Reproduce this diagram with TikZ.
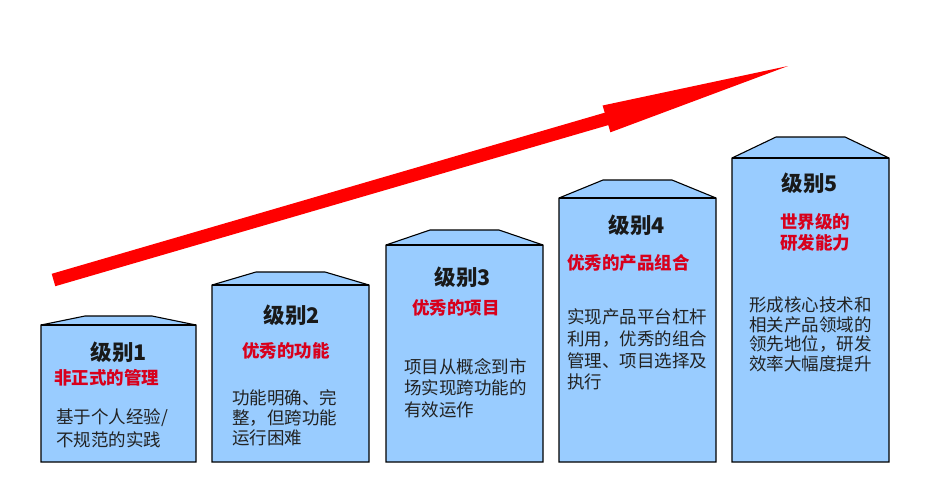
\documentclass[tikz,border=0pt]{standalone}
\usepackage{fontspec}
\setmainfont{Noto Sans CJK SC}
\definecolor{boxblue}{HTML}{99CCFF}
\definecolor{subred}{HTML}{D8001C}
\definecolor{bodygray}{HTML}{222222}
\definecolor{arrowred}{HTML}{FF0000}
\tikzset{
  towerbox/.style={fill=boxblue, draw=black, line width=1.1pt, line join=miter},
  roofline/.style={draw=black, line width=1.1pt},
  leveltitle/.style={inner sep=0pt, font=\fontsize{21.5}{21.5}\selectfont\bfseries, text=black!90},
  subtitle/.style={inner sep=0pt, font=\fontsize{17.5}{17.5}\selectfont\bfseries, text=subred},
  bodyline/.style={inner sep=0pt, anchor=west, font=\fontsize{17.5}{17.5}\selectfont, text=bodygray},
}
\newcommand{\tower}[5]{% left, right, bodytop, rooftop, bottom
  \fill[towerbox] (#1,#5) -- (#1,#3) -- ({#1+44},#4) -- ({#2-44},#4) -- (#2,#3) -- (#2,#5) -- cycle;
  \draw[roofline] (#1,#3) -- (#2,#3);
}
\begin{document}
\begin{tikzpicture}[x=1pt,y=-1pt]
\useasboundingbox (0,0) rectangle (936,485);
% rising arrow
\coordinate (tailU) at (51.7,273.8);
\coordinate (tailL) at (55.3,286.2);
\coordinate (shaftU) at (604.7,112.7);
\coordinate (shaftL) at (608.3,125.1);
\coordinate (headU) at (602.6,105.5);
\coordinate (headL) at (610.4,132.3);
\coordinate (tip) at (788,66);
\fill[arrowred] (tailU) -- (shaftU) -- (headU) -- (tip) -- (headL) -- (shaftL) -- (tailL) -- cycle;

% towers
\tower{41}{196}{325}{316}{462}
\tower{212}{369}{285}{272}{462}
\tower{386}{543}{245}{230}{462}
\tower{559}{716}{198}{180}{462}
\tower{732}{889}{158}{137}{462}

% level 1
\node[leveltitle] (t1) at (119,352) {级别1};
\node[subtitle, anchor=west] (s1) at (54,378) {非正式的管理};
\node[bodyline] (b1a) at (56,418) {基于个人经验/};
\node[bodyline] (b1b) at (56,440) {不规范的实践};

% level 2
\node[leveltitle] (t2) at (292,315) {级别2};
\node[subtitle] (s2) at (286,351) {优秀的功能};
\node[bodyline] (b2a) at (232,398) {功能明确、完};
\node[bodyline] (b2b) at (232,418) {整，但跨功能};
\node[bodyline] (b2c) at (232,438) {运行困难};

% level 3
\node[leveltitle] (t3) at (463,277) {级别3};
\node[subtitle] (s3) at (456,308) {优秀的项目};
\node[bodyline] (b3a) at (404,367) {项目从概念到市};
\node[bodyline] (b3b) at (404,388) {场实现跨功能的};
\node[bodyline] (b3c) at (404,410) {有效运作};

% level 4
\node[leveltitle] (t4) at (637,225) {级别4};
\node[subtitle, anchor=west] (s4) at (567,263) {优秀的产品组合};
\node[bodyline] (b4a) at (567,317) {实现产品平台杠杆};
\node[bodyline] (b4b) at (567,339) {利用，优秀的组合};
\node[bodyline] (b4c) at (567,361) {管理、项目选择及};
\node[bodyline] (b4d) at (567,382) {执行};

% level 5
\node[leveltitle] (t5) at (810,183) {级别5};
\node[subtitle] (s5a) at (815,222) {世界级的};
\node[subtitle] (s5b) at (815,243) {研发能力};
\node[bodyline] (b5a) at (749,305) {形成核心技术和};
\node[bodyline] (b5b) at (749,325) {相关产品领域的};
\node[bodyline] (b5c) at (749,344) {领先地位，研发};
\node[bodyline] (b5d) at (749,364) {效率大幅度提升};
\end{tikzpicture}
\end{document}
